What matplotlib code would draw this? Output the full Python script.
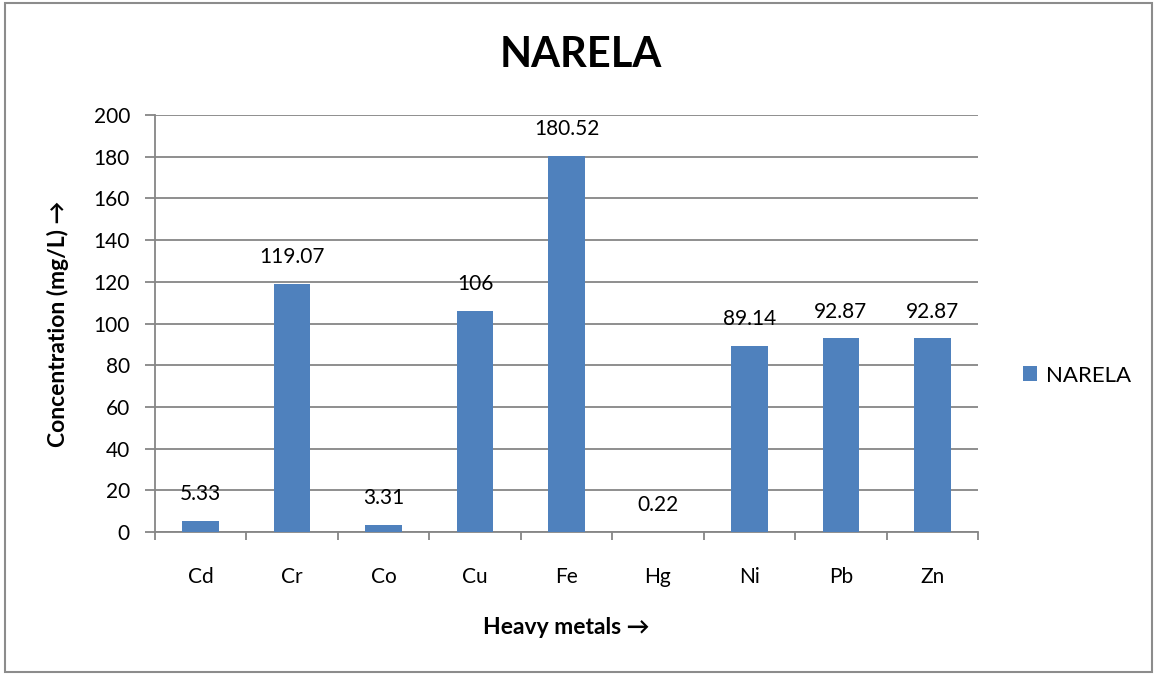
import matplotlib
matplotlib.use("Agg")
import matplotlib.pyplot as plt
from matplotlib.patches import Rectangle
import numpy as np

plt.rcParams['font.family'] = ['Lato', 'DejaVu Sans']

# heavy metal concentrations at Narela
metals = ["Cd", "Cr", "Co", "Cu", "Fe", "Hg", "Ni", "Pb", "Zn"]
narela = [5.33, 119.07, 3.31, 106, 180.52, 0.22, 89.14, 92.87, 92.87]
value_labels = ["5.33", "119.07", "3.31", "106", "180.52", "0.22", "89.14", "92.87", "92.87"]
yticks = [0, 20, 40, 60, 80, 100, 120, 140, 160, 180, 200]

bar_color = "#4F81BD"
grid_color = "#868686"

fig = plt.figure(figsize=(11.55, 6.75), dpi=100)
# outer chart border
fig.patches.append(Rectangle((0.004, 0.004), 0.993, 0.991, transform=fig.transFigure,
                             fill=False, edgecolor="#8C8C8C", linewidth=1.5))

ax = fig.add_axes([155 / 1155, 1 - 532 / 675, (978 - 155) / 1155, (532 - 115) / 675])
x = np.arange(len(metals))
ax.bar(x, narela, width=0.4, color=bar_color, label="NARELA", zorder=3)

for xi, v, lab in zip(x, narela, value_labels):
    ax.annotate(lab, (xi, v), xytext=(0, 12), textcoords="offset points",
                ha="center", va="bottom", fontsize=15)

ax.set_xlim(-0.5, len(metals) - 0.5)
ax.set_ylim(0, 200)
ax.set_yticks(yticks)
ax.yaxis.grid(True, color=grid_color, linewidth=1.3, zorder=0)
ax.set_xticks(x)
ax.set_xticklabels(metals)
ax.set_xticks(np.arange(-0.5, len(metals)), minor=True)
ax.tick_params(axis="x", which="major", length=0, pad=25, labelsize=15)
ax.tick_params(axis="x", which="minor", length=6, width=1.3, color=grid_color)
ax.tick_params(axis="y", length=7, width=1.3, color=grid_color, labelsize=15, pad=11)

for s in ["top", "right"]:
    ax.spines[s].set_visible(False)
for s in ["left", "bottom"]:
    ax.spines[s].set_color(grid_color)
    ax.spines[s].set_linewidth(1.3)

ax.set_xlabel("Heavy metals \u2192", fontsize=16.5, fontweight="bold", labelpad=22)
ax.set_ylabel("Concentration (mg/L) \u2192", fontsize=16.5, fontweight="bold", labelpad=18)
fig.text(0.503, 0.918, "NARELA", ha="center", va="center", fontsize=30, fontweight="bold")

ax.legend(loc="center left", bbox_to_anchor=(1.03, 0.375), frameon=False, fontsize=16,
          handlelength=0.65, handleheight=0.65, handletextpad=0.4)

fig.savefig("out.png", dpi=100)
